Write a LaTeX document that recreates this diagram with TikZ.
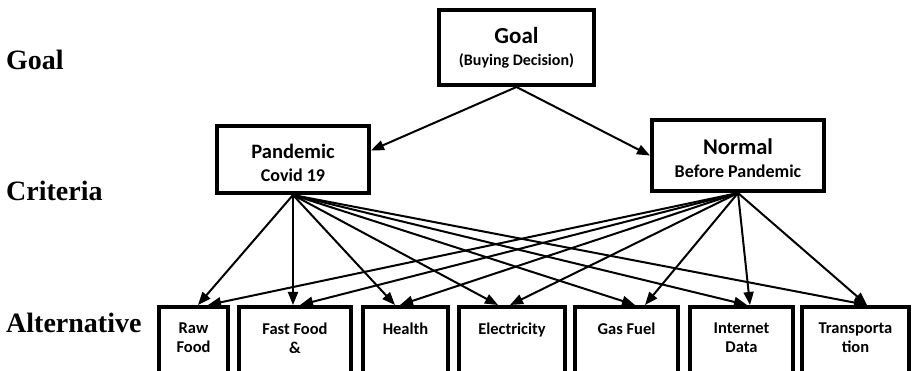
\documentclass[tikz,border=0pt]{standalone}
\usepackage{fontspec}
\setmainfont{Carlito}
\newfontfamily\tierfont{Liberation Serif}
\usetikzlibrary{arrows.meta}

\begin{document}
\begin{tikzpicture}[x=1pt,y=-1pt,>={Triangle[length=13pt,width=10pt]}]

  \tikzstyle{box}=[rectangle,line width=4pt,draw=black,align=center,inner sep=2pt]
  \tikzstyle{goal node}=[box,minimum width=155pt,minimum height=75pt,font=\bfseries\fontsize{16}{22}\selectfont]
  \tikzstyle{crit node}=[box,text height=44pt,font=\bfseries\fontsize{18}{23}\selectfont]
  \tikzstyle{alt node}=[box,minimum height=70pt,text depth=8pt,font=\bfseries\fontsize{16.5}{19}\selectfont]
  \tikzstyle{tier label}=[anchor=base west,inner sep=0pt,font=\tierfont\bfseries\fontsize{28}{30}\selectfont]
  \tikzstyle{pre}=[<-,draw,line width=2pt]

  \useasboundingbox (0,0) rectangle (913,371);
  \clip (0,0) rectangle (913,371);

  % tiers
  \path (6,70)  node[tier label] (t1) {Goal}
        (6,201) node[tier label] (t2) {Criteria}
        (6,333) node[tier label] (t3) {Alternative};

  % goal and criteria
  \path (516.5,47.5) node[goal node] (goal) {{\fontsize{23}{23}\selectfont Goal}\\(Buying Decision)}
        (293,159.5)  node[crit node,minimum width=152pt,minimum height=67pt] (pan)
                     {{\fontsize{20.5}{23}\selectfont Pandemic}\\Covid 19}
        (738,155.5)  node[crit node,minimum width=172pt,minimum height=71pt] (nor)
                     {{\fontsize{22.5}{23}\selectfont Normal}\\Before Pandemic};

  % alternatives
  \path (193.5,342) node[alt node,minimum width=69pt]  (raw)    {Raw\\Food}
     ++(101.5,0)    node[alt node,minimum width=112pt] (fast)   {Fast Food\\\&}
     ++(110.5,0)    node[alt node,minimum width=85pt]  (health) {Health\\\phantom{H}}
     ++(106.5,0)    node[alt node,minimum width=106pt] (elec)   {Electricity\\\phantom{H}}
     ++(114.5,0)    node[alt node,minimum width=103pt] (gas)    {Gas Fuel\\\phantom{H}}
     ++(115,0)      node[alt node,minimum width=103pt] (net)    {Internet\\Data}
     ++(114,0)      node[alt node,minimum width=107pt] (trans)  {Transporta\\tion};

  % links
  \path ([yshift=9pt]pan.east) edge[pre] (goal.south)
        (nor.west) edge[pre] (goal.south);
  \path ([xshift=4.5pt]raw.north)     edge[pre] (pan.south)
        ([xshift=14.5pt]raw.north)    edge[pre] (nor.south)
        ([xshift=-2pt]fast.north)     edge[pre] (pan.south)
        ([xshift=5pt]fast.north)      edge[pre] (nor.south)
        ([xshift=-10.5pt]health.north) edge[pre] (pan.south)
        ([xshift=-5.5pt]health.north) edge[pre] (nor.south)
        ([xshift=-14pt]elec.north)    edge[pre] (pan.south)
        ([xshift=-2pt]elec.north)     edge[pre] (nor.south)
        ([xshift=8.5pt]gas.north)     edge[pre] (pan.south)
        ([xshift=18.5pt]gas.north)    edge[pre] (nor.south)
        ([xshift=5.5pt]net.north)     edge[pre] (pan.south)
        ([xshift=8.5pt]net.north)     edge[pre] (nor.south)
        ([xshift=11.5pt]trans.north)  edge[pre] (pan.south)
        ([xshift=11.5pt]trans.north)  edge[pre] (nor.south);

\end{tikzpicture}
\end{document}
